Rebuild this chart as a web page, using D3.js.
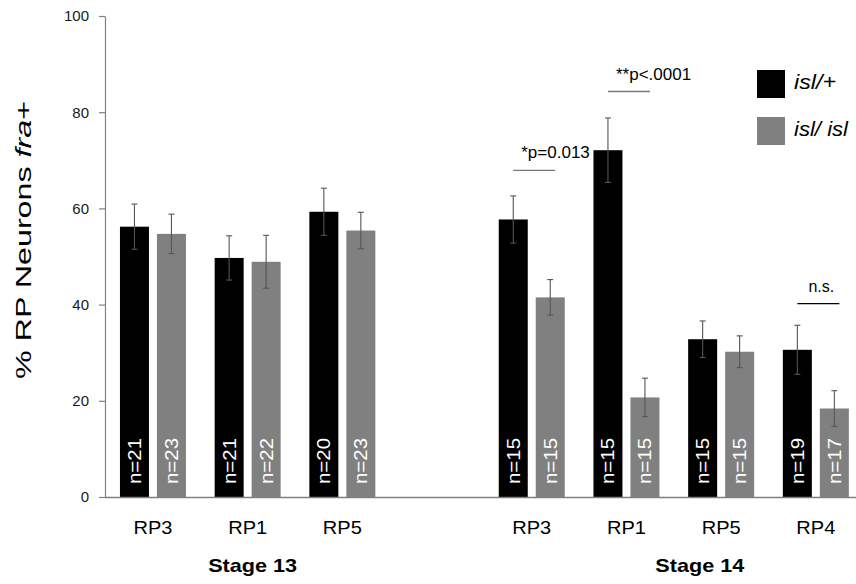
<!DOCTYPE html>
<html>
<head>
<meta charset="utf-8">
<script src="https://cdn.jsdelivr.net/npm/d3@7"></script>
<style>
  html, body { margin: 0; padding: 0; background: #fff; }
  svg { display: block; font-family: "Liberation Sans", Arial, sans-serif; }
</style>
</head>
<body>
<svg id="chart" width="856" height="584"></svg>
<script>
// ---- data ----
const stageNames = ["Stage 13", "Stage 14"];
const groupStage = [0, 0, 0, 1, 1, 1, 1];
const groupNeuron = ["RP3", "RP1", "RP5", "RP3", "RP1", "RP5", "RP4"];
const seriesNames = ["isl/+", "isl/ isl"];
const hetValues = [56.2, 49.7, 59.3, 57.7, 72.1, 32.8, 30.6];
const hetErrors = [4.7, 4.6, 4.9, 4.9, 6.7, 3.8, 5.1];
const homValues = [54.7, 48.9, 55.4, 41.5, 20.7, 30.2, 18.4];
const homErrors = [4.1, 5.5, 3.8, 3.7, 4.0, 3.3, 3.7];
const hetN = [21, 21, 20, 15, 15, 15, 19];
const homN = [23, 22, 23, 15, 15, 15, 17];
const yTicks = [0, 20, 40, 60, 80, 100];
// significance annotations: group index, label
const sigGroups = [3, 4, 6];
const sigLabels = ["*p=0.013", "**p<.0001", "n.s."];
const sigLevels = [62.6 + 5.3, 78.9 + 5.4, 35.7 + 4.5];

// ---- layout ----
const svg = d3.select("#chart");
const colors = ["#000000", "#808080"];
const slotKeys = ["g0", "g1", "g2", "gap", "g3", "g4", "g5", "g6"];
const groupKey = i => "g" + i;

const x = d3.scaleBand().domain(slotKeys).range([105.6, 863.2]).paddingInner(0).paddingOuter(0);
const xs = d3.scaleBand().domain([0, 1]).range([0, x.bandwidth()]).paddingInner(0.216).paddingOuter(0.388);
const y = d3.scaleLinear().domain([0, 100]).range([497, 16]);

const groups = groupNeuron.map((n, i) => ({
  i, neuron: n, stage: groupStage[i],
  bars: [
    { s: 0, v: hetValues[i], e: hetErrors[i], n: hetN[i] },
    { s: 1, v: homValues[i], e: homErrors[i], n: homN[i] }
  ]
}));

// y axis
const yAxis = svg.append("g")
  .attr("transform", "translate(105,0)")
  .call(d3.axisLeft(y).tickValues(yTicks).tickSize(6).tickSizeOuter(0).tickPadding(10));
yAxis.select(".domain").attr("stroke", "#808080").attr("stroke-width", 1.2);
yAxis.selectAll(".tick line").attr("stroke", "#808080").attr("stroke-width", 1.2);
yAxis.selectAll(".tick text").attr("font-size", 15).attr("fill", "#1a1a1a")
  .attr("font-family", "'Liberation Sans', Arial, sans-serif");

// bars
const g = svg.append("g").selectAll("g.grp").data(groups).join("g")
  .attr("class", "grp")
  .attr("transform", d => `translate(${x(groupKey(d.i))},0)`);

g.selectAll("rect").data(d => d.bars).join("rect")
  .attr("x", b => xs(b.s))
  .attr("width", xs.bandwidth())
  .attr("y", b => y(b.v))
  .attr("height", b => y(0) - y(b.v))
  .attr("fill", b => colors[b.s]);

// error bars
const eb = g.selectAll("g.err").data(d => d.bars).join("g").attr("class", "err")
  .attr("stroke", "#555").attr("stroke-width", 1.1);
eb.append("line")
  .attr("x1", b => xs(b.s) + xs.bandwidth() / 2).attr("x2", b => xs(b.s) + xs.bandwidth() / 2)
  .attr("y1", b => y(b.v + b.e)).attr("y2", b => y(b.v - b.e));
eb.append("line")
  .attr("x1", b => xs(b.s) + xs.bandwidth() / 2 - 3).attr("x2", b => xs(b.s) + xs.bandwidth() / 2 + 3)
  .attr("y1", b => y(b.v + b.e)).attr("y2", b => y(b.v + b.e));
eb.append("line")
  .attr("x1", b => xs(b.s) + xs.bandwidth() / 2 - 3).attr("x2", b => xs(b.s) + xs.bandwidth() / 2 + 3)
  .attr("y1", b => y(b.v - b.e)).attr("y2", b => y(b.v - b.e));

// n labels
g.selectAll("text.n").data(d => d.bars).join("text").attr("class", "n")
  .attr("transform", b => `translate(${xs(b.s) + xs.bandwidth() / 2 + 6.5},${y(0) - 13}) rotate(-90)`)
  .attr("text-anchor", "start")
  .attr("font-size", 18)
  .attr("textLength", 46).attr("lengthAdjust", "spacingAndGlyphs")
  .attr("fill", "#fff")
  .text(b => "n=" + b.n);

// x axis
const xAxis = svg.append("g")
  .attr("transform", `translate(0,${y(0)})`)
  .call(d3.axisBottom(x).tickSize(0).tickSizeOuter(0).tickPadding(20)
    .tickFormat(k => k === "gap" ? "" : groupNeuron[+k.slice(1)]));
xAxis.select(".domain").attr("stroke", "#808080").attr("stroke-width", 1.5)
  .attr("d", `M105,0.5H856`);
xAxis.selectAll(".tick text")
  .attr("font-size", 19).attr("fill", "#000")
  .attr("font-family", "'Liberation Sans', Arial, sans-serif")
  .attr("dy", "0.9em")
  .each(function(k) { if (k !== "gap") d3.select(this).attr("textLength", 39).attr("lengthAdjust", "spacingAndGlyphs"); });

// stage labels
stageNames.forEach((s, si) => {
  const idx = groupStage.map((v, i) => v === si ? i : -1).filter(i => i >= 0);
  const cx = d3.mean(idx, i => x(groupKey(i)) + x.bandwidth() / 2);
  svg.append("text")
    .attr("x", cx + (si === 0 ? 5 : 26)).attr("y", 572)
    .attr("text-anchor", "middle")
    .attr("font-size", 19).attr("font-weight", "bold")
    .attr("textLength", 89).attr("lengthAdjust", "spacingAndGlyphs")
    .text(s);
});

// y axis title
const yt = svg.append("text")
  .attr("transform", "translate(31,240) rotate(-90)")
  .attr("text-anchor", "middle")
  .attr("font-size", 22)
  .attr("textLength", 278).attr("lengthAdjust", "spacingAndGlyphs");
yt.append("tspan").text("% RP Neurons ");
yt.append("tspan").attr("font-style", "italic").text("fra");
yt.append("tspan").text("+");

// significance
sigGroups.forEach((gi, k) => {
  const x0 = x(groupKey(gi)) + xs(0) + xs.bandwidth() / 2;
  const x1 = x(groupKey(gi)) + xs(1) + xs.bandwidth() / 2 + 5;
  const ly = y(sigLevels[k]);
  svg.append("line").attr("x1", x0).attr("x2", x1).attr("y1", ly).attr("y2", ly)
    .attr("stroke", k === 2 ? "#000" : "#777").attr("stroke-width", 1.3);
  svg.append("text")
    .attr("x", k === 2 ? (x0 + x1) / 2 + 3 : x0 + 8)
    .attr("y", ly - 12)
    .attr("text-anchor", k === 2 ? "middle" : "start")
    .attr("font-size", k === 2 ? 16 : 17)
    .attr("fill", "#000")
    .text(sigLabels[k]);
});

// legend
const leg = svg.append("g").attr("transform", "translate(757,70)");
seriesNames.forEach((s, i) => {
  leg.append("rect").attr("x", 0).attr("y", i * 47).attr("width", 28).attr("height", 28)
    .attr("fill", colors[i]);
  leg.append("text").attr("x", 37).attr("y", i * 47 + 19)
    .attr("font-size", 20).attr("font-style", "italic")
    .attr("textLength", i === 0 ? 42 : 54).attr("lengthAdjust", "spacingAndGlyphs")
    .text(s);
});
</script>
</body>
</html>
